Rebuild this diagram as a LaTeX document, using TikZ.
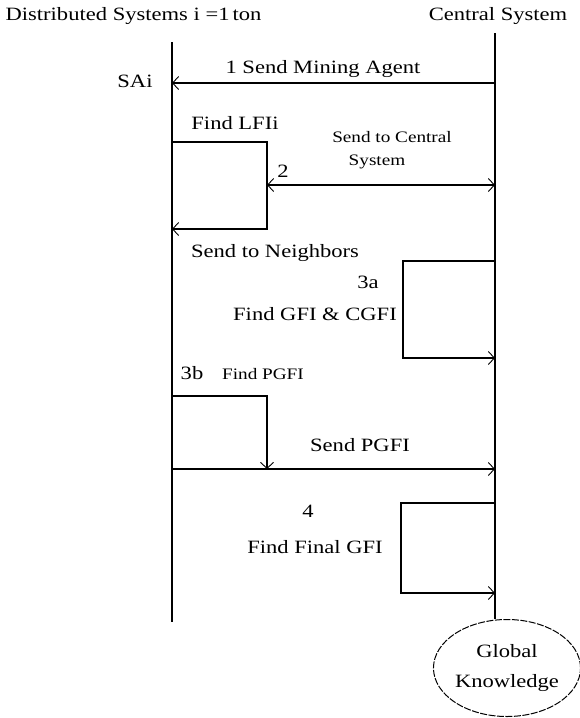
\documentclass[tikz,border=0pt]{standalone}
\usepackage{fontspec}
\setmainfont{Liberation Serif}[FakeStretch=1.2]
\usetikzlibrary{arrows.meta,shapes.geometric}
\begin{document}
\begin{tikzpicture}[x=1pt,y=-1pt,
  line width=1.2pt,
  lbl/.style={inner sep=0pt,anchor=base,font=\fontsize{18.8}{22}\selectfont},
  slbl/.style={inner sep=0pt,anchor=base,font=\fontsize{16}{19}\selectfont},
  msg/.style={-{Straight Barb[length=6pt,width=13pt,line width=0.9pt]}},
  dmsg/.style={{Straight Barb[length=6pt,width=13pt,line width=0.9pt]}-{Straight Barb[length=6pt,width=13pt,line width=0.9pt]}},
  know/.style={ellipse,draw,dash pattern=on 7pt off 1.5pt,line width=1pt,minimum width=141pt,minimum height=97pt,inner sep=0pt,align=center,font=\fontsize{18.8}{30}\selectfont}
]
\useasboundingbox (0,0) rectangle (579,718);
% headers
\node[lbl,anchor=base west] (hdist) at (5,20) {Distributed Systems i =1\,ton};
\node[lbl] (hcent) at (498,20) {Central System};
% lifelines
\coordinate (Ltop) at (172,42);
\coordinate (Lbot) at (172,622);
\coordinate (Rtop) at (495,33);
\node[know] (gk) at (507,668) {Global\\Knowledge};
\draw (Ltop) -- (Lbot);
\draw (Rtop) -- (495,0 |- gk.north);
% step 1
\coordinate (r1) at (495,83);
\coordinate (l1) at (172,83);
\draw[msg] (r1) -- (l1);
\node[lbl] (t1) at (323,73) {1 Send Mining Agent};
\node[lbl] (sai) at (135,87) {SAi};
% step 2
\node[lbl] (flfi) at (235,129) {Find LFIi};
\coordinate (b1a) at (172,142);
\coordinate (b1b) at (267,142);
\coordinate (b1c) at (267,229);
\coordinate (b1d) at (172,229);
\draw[msg] (b1a) -- (b1b) -- (b1c) -- (b1d);
\coordinate (d2a) at (267,185);
\coordinate (d2b) at (495,185);
\draw[dmsg] (d2a) -- (d2b);
\node[lbl] (t2) at (283,177) {2};
\node[slbl] (stc1) at (392,142) {Send to Central};
\node[slbl] (stc2) at (377,165) {System};
\node[lbl] (stn) at (275,257) {Send to Neighbors};
% step 3a
\coordinate (b3a) at (495,261);
\coordinate (b3b) at (403,261);
\coordinate (b3c) at (403,358);
\coordinate (b3d) at (495,358);
\draw[msg] (b3a) -- (b3b) -- (b3c) -- (b3d);
\node[lbl] (t3a) at (368,288) {3a};
\node[lbl] (fgfi) at (315,320) {Find GFI \& CGFI};
% step 3b
\node[lbl] (t3b) at (192,379) {3b};
\node[slbl] (fpgfi) at (263,379) {Find PGFI};
\coordinate (b4a) at (172,396);
\coordinate (b4b) at (267,396);
\coordinate (b4c) at (267,469);
\draw[msg] (b4a) -- (b4b) -- (b4c);
\coordinate (s4a) at (172,469);
\coordinate (s4b) at (495,469);
\draw[msg] (s4a) -- (s4b);
\node[lbl] (spgfi) at (360,451) {Send PGFI};
% step 4
\coordinate (b5a) at (495,503);
\coordinate (b5b) at (401,503);
\coordinate (b5c) at (401,593);
\coordinate (b5d) at (495,593);
\draw[msg] (b5a) -- (b5b) -- (b5c) -- (b5d);
\node[lbl] (t4) at (308,517) {4};
\node[lbl] (ffgfi) at (315,553) {Find Final GFI};
\end{tikzpicture}
\end{document}
